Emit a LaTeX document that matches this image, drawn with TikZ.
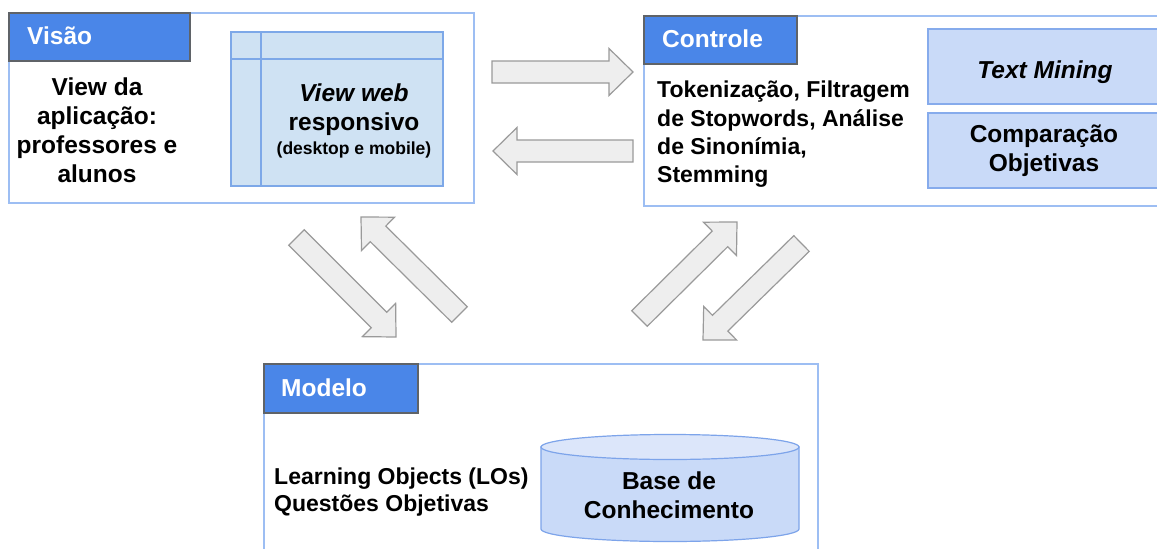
\documentclass[tikz,border=0pt]{standalone}
\usepackage{fontspec}
\setmainfont{Liberation Sans}
\usetikzlibrary{calc}

\definecolor{frameblue}{HTML}{9DBEF3}
\definecolor{hdrblue}{HTML}{4A86E8}
\definecolor{hdrline}{HTML}{5F6368}
\definecolor{boxfill}{HTML}{C9DAF8}
\definecolor{boxline}{HTML}{86ABEC}
\definecolor{webfill}{HTML}{CFE2F3}
\definecolor{webline}{HTML}{7DA8E8}
\definecolor{arrowfill}{HTML}{EEEEEE}
\definecolor{arrowline}{HTML}{9A9A9A}
\definecolor{cyltop}{HTML}{DCE6FA}
\definecolor{cylline}{HTML}{7DA4EA}

% block arrow from tail coordinate #1 to tip coordinate #2
\newcommand\blkarrow[2]{%
  \path ($(#2)!24pt!(#1)$) coordinate (#2-hb);
  \draw[blockarrow]
    ($(#1)!11pt!90:(#2)$) --
    ($(#2-hb)!11pt!90:(#2)$) --
    ($(#2-hb)!23.5pt!90:(#2)$) --
    (#2) --
    ($(#2-hb)!23.5pt!-90:(#2)$) --
    ($(#2-hb)!11pt!-90:(#2)$) --
    ($(#1)!11pt!-90:(#2)$) -- cycle;
}

\begin{document}
\begin{tikzpicture}[x=1pt,y=-1pt,
  frame/.style={draw=frameblue, line width=1.6pt, fill=white, inner sep=0pt, outer sep=0pt, anchor=north west},
  header/.style={draw=hdrline, fill=hdrblue, line width=1.1pt, inner sep=0pt, outer sep=0pt, anchor=north west},
  hdrtext/.style={text=white, font=\fontsize{24.5}{29}\selectfont\bfseries, anchor=base west, inner sep=0pt},
  bodybig/.style={font=\fontsize{24.5}{29}\selectfont\bfseries, inner sep=0pt},
  bodysmall/.style={font=\fontsize{23}{28.3}\selectfont\bfseries, inner sep=0pt},
  subbox/.style={draw=boxline, fill=boxfill, line width=1.2pt, inner sep=0pt, outer sep=0pt, anchor=north west},
  webbox/.style={draw=webline, fill=webfill, line width=1.2pt, inner sep=0pt, outer sep=0pt, anchor=north west},
  blockarrow/.style={draw=arrowline, fill=arrowfill, line width=1.2pt, line join=miter}
]
\useasboundingbox (0,0) rectangle (1157,549);
\clip (0,0) rectangle (1157,549);

% ---------- Visão ----------
\node[frame, minimum width=465pt, minimum height=190pt] (visao) at (9,13) {};
\node[header, minimum width=181pt, minimum height=48pt] (visaohdr) at (9,13) {};
\node[hdrtext] (visaolbl) at (27,44) {Visão};
\node[bodybig, align=center] (visaotxt) at (97,130) {View da\\aplicação:\\professores e\\alunos};

\node[webbox, minimum width=212pt, minimum height=154pt] (web) at (231,32) {};
\draw[webline, line width=1.2pt] ($(web.north west)+(30,0)$) -- ($(web.south west)+(30,0)$)
  ($(web.north west)+(0,27)$) -- ($(web.north east)+(0,27)$);
\node[bodybig, anchor=base] (webl1) at (354,101) {\itshape View web};
\node[bodybig, anchor=base] (webl2) at (354,130) {responsivo};
\node[font=\fontsize{17.5}{21}\selectfont\bfseries, inner sep=0pt, anchor=base] (webl3) at (354,154) {(desktop e mobile)};

% ---------- Controle ----------
\node[frame, minimum width=530pt, minimum height=190pt] (controle) at (644,16) {};
\node[header, minimum width=153pt, minimum height=48pt] (controlehdr) at (644,16) {};
\node[hdrtext] (controlelbl) at (662,47) {Controle};
\node[bodysmall, align=left, anchor=west] (controletxt) at (657,134.5)
  {Tokenização, Filtragem\\de Stopwords, Análise\\de Sinonímia,\\Stemming};

\node[subbox, minimum width=240pt, minimum height=75pt] (textmining) at (928,29) {};
\node[bodybig, anchor=base] (tmlbl) at (1045,78) {\itshape Text Mining};
\node[subbox, minimum width=240pt, minimum height=75pt] (comparacao) at (928,113) {};
\node[bodybig, align=center] (cmplbl) at (1044,150.5) {Comparação\\Objetivas};

% ---------- Modelo ----------
\node[frame, minimum width=554pt, minimum height=200pt] (modelo) at (264,364) {};
\node[header, minimum width=154pt, minimum height=49pt] (modelohdr) at (264,364) {};
\node[hdrtext] (modelolbl) at (281,396) {Modelo};
\node[bodysmall, align=left, anchor=west, font=\fontsize{23}{27}\selectfont\bfseries] (modelotxt) at (274,492.5)
  {Learning Objects (LOs)\\Questões Objetivas};

% knowledge base cylinder
\coordinate (cyltopc) at (670,447);
\coordinate (cylbotc) at (670,529);
\filldraw[fill=boxfill, draw=cylline, line width=1.2pt]
  (541,447) -- (541,529) arc[start angle=180, end angle=360, x radius=129pt, y radius=12.5pt]
  -- (799,447) -- cycle;
\filldraw[fill=cyltop, draw=cylline, line width=1.2pt] (cyltopc) ellipse [x radius=129pt, y radius=12.5pt];
\node[bodybig, align=center] (kb) at (669,495.5) {Base de\\Conhecimento};

% ---------- block arrows ----------
\coordinate (vc-tail) at (492,72);   \coordinate (vc-tip) at (633,72);
\coordinate (cv-tail) at (633,151);  \coordinate (cv-tip) at (493,151);
\coordinate (vm-tail) at (296.5,237.5); \coordinate (vm-tip) at (396,337);
\coordinate (mv-tail) at (459.5,314.5); \coordinate (mv-tip) at (361,217);
\coordinate (mc-tail) at (639.5,318.5); \coordinate (mc-tip) at (737,222);
\coordinate (cm-tail) at (801.5,243.5); \coordinate (cm-tip) at (703,340);

\blkarrow{vc-tail}{vc-tip}
\blkarrow{cv-tail}{cv-tip}
\blkarrow{vm-tail}{vm-tip}
\blkarrow{mv-tail}{mv-tip}
\blkarrow{mc-tail}{mc-tip}
\blkarrow{cm-tail}{cm-tip}
\end{tikzpicture}
\end{document}
